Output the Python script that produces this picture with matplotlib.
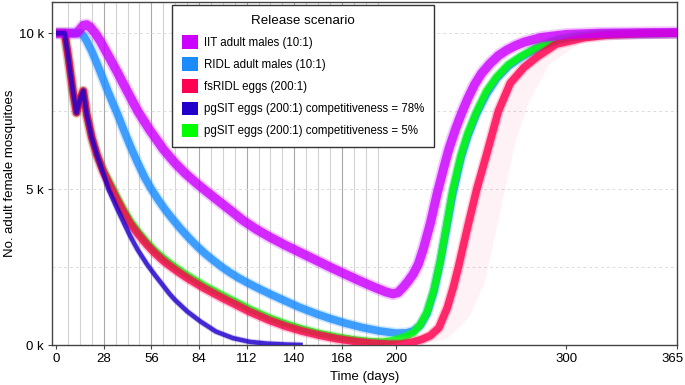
import matplotlib
matplotlib.use("Agg")
import matplotlib.pyplot as plt
import matplotlib.transforms as mtransforms
from matplotlib.patches import Patch

plt.rcParams['font.family'] = ['Liberation Sans', 'DejaVu Sans']

# release days (weekly releases)
release_days = [7, 14, 21, 28, 35, 42, 49, 56, 63, 70, 77, 84, 91, 98, 105, 112,
                119, 126, 133, 140, 147, 154, 161, 168, 175, 182, 189]

# IIT adult males (10:1)
iit_days = [0, 12, 14, 16, 18, 20, 23, 26, 30, 36, 42, 48, 55, 63, 70, 76, 82.7, 87.6,
            95, 102, 110, 118, 126, 134, 143, 152, 161, 170, 180, 188, 194, 198, 201,
            204, 207, 210, 213, 216, 220, 224, 228, 231, 235, 238.5, 242, 246, 250, 255,
            260, 265, 270, 275, 285, 300, 320, 365]
iit_vals = [10000, 10000, 10120, 10250, 10270, 10200, 10000, 9750, 9350, 8750, 8120,
            7500, 6900, 6280, 5830, 5500, 5180, 4960, 4640, 4340, 3990, 3700, 3450, 3220,
            2980, 2740, 2500, 2270, 2020, 1830, 1700, 1640, 1680, 1850, 2050, 2280, 2600,
            3100, 3900, 4850, 5700, 6300, 6950, 7450, 7900, 8350, 8700, 9020, 9280, 9460,
            9600, 9710, 9860, 9960, 10000, 10020]

# RIDL adult males (10:1)
ridl_days = [0, 14, 16, 18, 21, 24, 27, 30, 33, 36, 40, 44, 48, 52, 56, 60, 64, 68, 73,
             78, 83, 88, 93, 97.5, 102, 107, 112, 118, 126, 134, 143, 153, 161, 170, 180,
             190, 200, 206, 210, 214, 218, 222, 226, 230, 233, 238, 242, 247, 253, 259,
             266, 273, 283, 295, 305, 320, 365]
ridl_vals = [10000, 10000, 9930, 9750, 9420, 9030, 8620, 8200, 7800, 7420, 6860, 6330,
             5840, 5380, 5000, 4660, 4350, 4070, 3740, 3440, 3160, 2910, 2690, 2500, 2330,
             2160, 2010, 1840, 1630, 1430, 1210, 1000, 850, 700, 560, 450, 380, 390, 450,
             620, 1000, 1700, 2700, 3900, 4800, 6000, 6700, 7400, 8050, 8550, 8950, 9220,
             9530, 9780, 9890, 9960, 10000]

# fsRIDL eggs (200:1)
fsridl_days = [0, 5, 7, 10, 12, 14.5, 16, 18, 21, 24, 27.8, 32.7, 36, 40, 43.5, 48, 53.3,
               58, 63, 68, 72.9, 77, 82.7, 87, 92.5, 98, 105, 114, 125, 135, 145, 155, 165,
               175, 185, 195, 203, 210, 215, 220, 225, 230, 233.6, 236.5, 242, 247.3, 253,
               260, 267, 275, 283, 294, 310, 324, 345, 365]
fsridl_vals = [10000, 10000, 9300, 8100, 7450, 7950, 8150, 7400, 6650, 6100, 5550, 5000,
               4640, 4230, 3900, 3570, 3220, 2950, 2700, 2490, 2300, 2150, 1960, 1820, 1660,
               1500, 1310, 1060, 800, 600, 440, 310, 200, 120, 60, 25, 25, 100, 180, 300,
               550, 1200, 1870, 2500, 3800, 5000, 6100, 7500, 8400, 8900, 9250, 9650, 9850,
               9940, 9990, 10000]
# faint outer edge of the fsRIDL runs during the rebound
fsridl_outer_days = [212, 230, 243, 252, 258, 264, 270, 278, 290, 310, 335]
fsridl_outer_vals = [0, 200, 900, 2000, 3500, 5000, 6500, 7800, 9000, 9750, 10000]

# pgSIT eggs (200:1) competitiveness = 78%
pg78_days = [0, 5, 7, 10, 12, 14.5, 16, 18, 21, 24, 27.8, 30.8, 35.7, 40, 43.5, 48, 53.3,
             58, 63, 67, 70, 77, 84.7, 94, 104, 114, 124, 135, 145]
pg78_vals = [10000, 10000, 9300, 8100, 7450, 7950, 8150, 7400, 6650, 6100, 5500, 5000,
             4400, 3900, 3500, 3050, 2600, 2250, 1900, 1620, 1440, 1080, 760, 430, 220,
             100, 45, 15, 0]

# pgSIT eggs (200:1) competitiveness = 5%
pg5_days = [0, 5, 7, 10, 12, 14.5, 16, 18, 21, 24, 27.8, 32.7, 36, 40, 43.5, 48, 53.3, 58,
            63, 68, 72.9, 77, 82.7, 87, 92.5, 98, 105, 114, 125, 135, 145, 155, 165, 175,
            185, 192, 198, 205, 210, 214, 218, 222, 226, 230, 233, 238, 242, 247.3, 253,
            259, 266, 273, 283, 295, 305, 320, 365]
pg5_vals = [10000, 10000, 9300, 8100, 7450, 7950, 8150, 7400, 6650, 6100, 5600, 5080,
            4720, 4310, 3990, 3650, 3300, 3030, 2790, 2580, 2390, 2240, 2050, 1910, 1750,
            1590, 1400, 1150, 880, 680, 510, 370, 260, 170, 110, 100, 150, 260, 400, 650,
            1050, 1750, 2750, 4000, 4950, 6100, 6800, 7500, 8150, 8600, 9000, 9250, 9560,
            9800, 9900, 9970, 10000]

labels = ['IIT adult males (10:1)', 'RIDL adult males (10:1)', 'fsRIDL eggs (200:1)',
          'pgSIT eggs (200:1) competitiveness = 78%',
          'pgSIT eggs (200:1) competitiveness = 5%']
colors = ['#cc00ff', '#1a8cff', '#ff0050', '#2200cc', '#00ff00']

xticks = [0, 28, 56, 84, 112, 140, 168, 200, 300, 365]
yticks = [0, 5000, 10000]
yticklabels = ['0 k', '5 k', '10 k']


def band(ax, x, y, color, width, z):
    # soft, thick band standing in for the cloud of simulation runs
    ax.plot(x, y, color=color, lw=width * 1.4, alpha=0.22, zorder=z,
            solid_joinstyle='round', solid_capstyle='butt')
    ax.plot(x, y, color=color, lw=width, alpha=0.8, zorder=z + 0.1,
            solid_joinstyle='round', solid_capstyle='butt')


fig = plt.figure(figsize=(6.85, 3.85), dpi=100)
ax = fig.add_axes([52 / 685, 40 / 385, 625 / 685, 343 / 385])

for d in release_days:
    c = '#a8a8a8' if d % 28 == 0 else '#d2d2d2'
    ax.axvline(d, color=c, lw=0.8, zorder=0)
for v in [2500, 5000, 7500, 10000]:
    ax.axhline(v, color='#dcdcdc', lw=0.7, ls=(0, (3, 3)), zorder=0)

# faint spread of late fsRIDL runs
ax.fill(fsridl_days[38:] + fsridl_outer_days[::-1],
        fsridl_vals[38:] + fsridl_outer_vals[::-1],
        color=colors[2], alpha=0.05, lw=0, zorder=1)

band(ax, ridl_days, ridl_vals, colors[1], 5.5, 2)
band(ax, pg5_days, pg5_vals, colors[4], 5.0, 3)
band(ax, fsridl_days, fsridl_vals, colors[2], 5.5, 4)
band(ax, iit_days, iit_vals, colors[0], 6.5, 5)
band(ax, pg78_days, pg78_vals, colors[3], 3.2, 6)

ax.set_xlim(-2.4, 365)
ax.set_ylim(0, 11000)
ax.set_xticks(xticks)
ax.set_yticks(yticks)
ax.set_yticklabels(yticklabels)
ax.tick_params(labelsize=9.5, length=3, width=0.8, color='#444444', pad=3)
# keep the last x tick label inside the figure
last = ax.get_xticklabels()[-1]
last.set_transform(last.get_transform() +
                   mtransforms.ScaledTranslation(-4 / 100, 0, fig.dpi_scale_trans))
for s in ax.spines.values():
    s.set_color('#444444')
    s.set_linewidth(1.0)
ax.set_xlabel('Time (days)', fontsize=9.5, labelpad=4)
ax.set_ylabel('No. adult female mosquitoes', fontsize=9.5, labelpad=2)

handles = [Patch(facecolor=c, edgecolor='none') for c in colors]
leg = ax.legend(handles, labels, title='Release scenario', loc='upper left',
                bbox_to_anchor=(0.192, 0.992), fontsize=8.3, title_fontsize=9.6,
                frameon=True, fancybox=False, framealpha=1, edgecolor='#333333',
                handlelength=1.4, handleheight=1.4, handletextpad=0.55,
                labelspacing=0.75, borderpad=0.85, borderaxespad=0)
leg.get_frame().set_linewidth(1.0)
leg.set_zorder(10)

fig.savefig('out.png', dpi=100)
